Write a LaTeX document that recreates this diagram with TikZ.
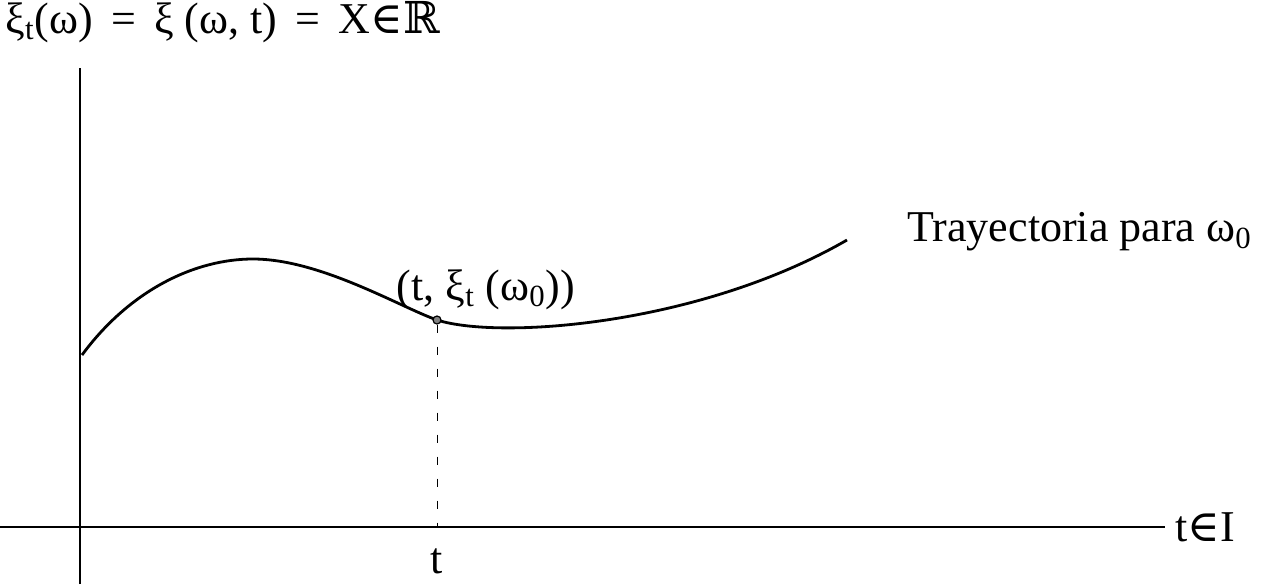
\documentclass[tikz,border=0pt]{standalone}
\usepackage{fontspec}
\setmainfont{Liberation Serif}
\newfontfamily\symfont{DejaVu Serif}

\begin{document}
\begin{tikzpicture}[
  x=0.5pt, y=-0.5pt,
  every node/.style={font=\fontsize{22}{26}\selectfont, inner sep=0pt},
  axis/.style={line width=1pt},
  path/.style={line width=1.4pt},
  guide/.style={line width=0.5pt, dash pattern=on 4pt off 7pt},
  dot/.style={circle, draw, fill=gray, minimum size=4pt, line width=0.6pt}
]
\useasboundingbox (0,0) rectangle (1269,584);
% axes
\coordinate (o) at (80,527);
\coordinate (ytop) at (80,68);
\coordinate (ybot) at (80,584);
\coordinate (xleft) at (0,527);
\coordinate (xright) at (1165,527);
\draw[axis] (ybot) -- (ytop);
\draw[axis] (xleft) -- (xright);
\node[anchor=west] (xlabel) at (1175,527) {t{\symfont∈}I};
\node[anchor=west] (ylabel) at (5,22) {ξ\textsubscript{t}(ω) \,=\, ξ (ω, t) \,=\, X{\symfont∈ℝ}};
% trajectory
\coordinate (start) at (82,355);
\coordinate (peak) at (253,259);
\coordinate (at-t) at (437,320);
\coordinate (stop) at (847,240);
\draw[path] (start) .. controls (130,290) and (195,259) .. (peak)
  .. controls (320,259) and (400,307) .. (at-t)
  .. controls (500,340) and (700,325) .. (stop);
\node[dot] (pt) at (at-t) {};
\node (ptlabel) at (486,290) {(t, ξ\textsubscript{t} (ω\textsubscript{0}))};
\node[anchor=west] (trajlabel) at (907,232) {Trayectoria para ω\textsubscript{0}};
% time mark
\coordinate (tx) at (437,527);
\draw[guide] (pt) -- (tx);
\node (tlabel) at (437,561) {t};
\end{tikzpicture}
\end{document}
